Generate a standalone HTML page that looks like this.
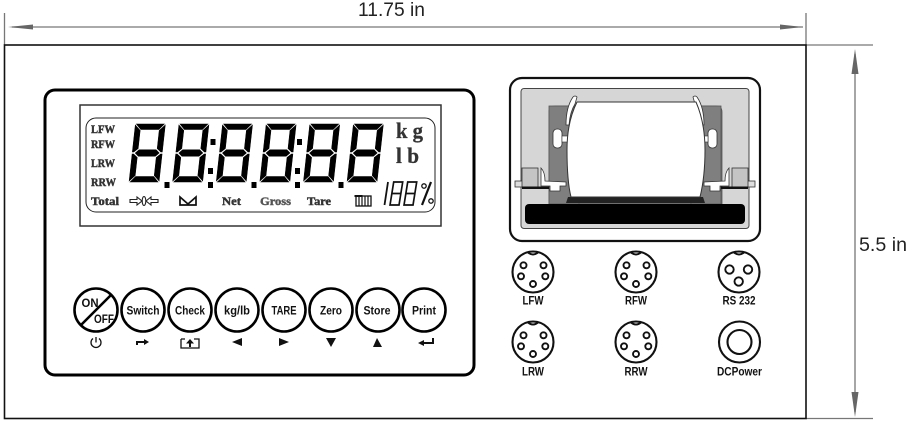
<!DOCTYPE html>
<html><head><meta charset="utf-8"><style>
html,body{margin:0;padding:0;background:#fff;width:910px;height:424px;overflow:hidden}
svg{display:block}
.d{font-family:"Liberation Sans",sans-serif;font-size:19.5px;fill:#222}
.b{font-family:"Liberation Sans",sans-serif;font-weight:bold;font-size:12px;fill:#111;text-anchor:middle}
.l{font-family:"Liberation Serif",serif;font-weight:bold;font-size:12px;fill:#333;stroke:#333;stroke-width:.45}
</style></head><body>
<svg width="910" height="424" viewBox="0 0 910 424" xmlns="http://www.w3.org/2000/svg">
<defs>
<g id="dg" transform="matrix(1 0 -0.11 1 6.4 0)" fill="#000" stroke="#000" stroke-width=".5">
<polygon points="1,0 29,0 24,5.5 6,5.5"/>
<polygon points="0,1 5.5,6.5 5.5,24.5 1.5,28 0,28"/>
<polygon points="30,1 30,28 28.5,28 24.5,24.5 24.5,6.500"/>
<polygon points="3,29 6.500,25.8 23.500,25.8 27,29 23.500,32.2 6.500,32.2"/>
<polygon points="0,30 1.5,30 5.5,33.500 5.500,51.500 0,57"/>
<polygon points="30,30 28.5,30 24.5,33.500 24.500,51.500 30,57"/>
<polygon points="1,58 6,52.500 24,52.500 29,58"/>
</g>
<g id="c5" fill="#fff" stroke="#111" stroke-width="1.9">
<circle r="20.5" stroke-width="2.1"/>
<path d="M-5.5-20Q0-15 5.5-20" fill="none"/>
<circle cx="-9.5" cy="-6.7" r="3"/><circle cx="10.5" cy="-6.7" r="3"/>
<circle cx="-12" cy="4.3" r="3"/><circle cx="12.3" cy="4.3" r="3"/>
<circle cx="0" cy="12" r="3"/>
</g>
<g id="s8" fill="none" stroke="#111" stroke-width="1.7" transform="matrix(1 0 -.16 1 3.7 0)">
<rect x="0" y="0" width="9" height="23"/><path d="M0 11.5H9"/>
</g>
<g id="cl">
<rect x="549" y="106" width="30" height="98" fill="#7f7f7f" stroke="#555" stroke-width=".8"/>
<rect x="553" y="129" width="9" height="19" rx="4" fill="#fff" stroke="#333" stroke-width=".8"/>
<rect x="562" y="136" width="6" height="6" fill="#fff" stroke="#333" stroke-width=".6"/>
<rect x="515" y="181" width="8" height="6" fill="#ddd" stroke="#333" stroke-width=".8"/>
<rect x="522" y="168" width="16" height="19" fill="#c4c4c4" stroke="#333" stroke-width=".8"/>
<rect x="522" y="186.5" width="27" height="2.5" fill="#111"/>
<path d="M541 168Q545 172 545 181L566 182V186H560V191H550V186H541Z" fill="#fff" stroke="#333" stroke-width=".8"/>
<path d="M573 97Q575 95 577 97L575 104Q570 112 569 125L566 125Q566 107 573 97Z" fill="#fff" stroke="#333" stroke-width=".8"/>
</g>
</defs>

<!-- dimensions -->
<g stroke="#777" stroke-width="1.3" fill="none">
<path d="M4.5 13V45M806 13V45M806 45H873M806 418.5H873"/>
<path d="M12 27H803M855 54V412"/>
</g>
<g fill="#666">
<polygon points="8,27 33,24.5 33,29.5"/><polygon points="803,27 780,24.5 780,29.5"/>
<polygon points="855,49 851.5,74 858.5,74"/><polygon points="855,417 851.5,392 858.5,392"/>
</g>
<text x="358" y="16" class="d" textLength="67" lengthAdjust="spacingAndGlyphs">11.75 in</text>
<text x="859" y="251" class="d" textLength="48" lengthAdjust="spacingAndGlyphs">5.5 in</text>

<rect x="4.5" y="45" width="801.5" height="373.5" fill="#fff" stroke="#111" stroke-width="1.6"/>
<rect x="45" y="90" width="429" height="285" rx="10" fill="#fff" stroke="#000" stroke-width="3"/>

<!-- LCD -->
<rect x="80" y="105" width="361" height="121" fill="#fff" stroke="#333" stroke-width="1.5"/>
<rect x="86" y="118" width="349" height="94" rx="10" fill="none" stroke="#222" stroke-width="1"/>
<use href="#dg" x="129" y="124"/><use href="#dg" x="172.6" y="124"/><use href="#dg" x="216.2" y="124"/>
<use href="#dg" x="259.8" y="124"/><use href="#dg" x="303.4" y="124"/><use href="#dg" x="347" y="124"/>
<g fill="#000">
<rect x="164.5" y="182" width="5" height="6"/><rect x="208" y="182" width="5" height="6"/>
<rect x="251.5" y="182" width="5" height="6"/><rect x="295" y="182" width="5" height="6"/>
<rect x="338.5" y="182" width="5" height="6"/>
<rect x="210.5" y="139" width="5" height="6"/><rect x="208" y="168" width="5" height="6"/>
<rect x="297" y="139" width="5" height="6"/><rect x="295" y="168" width="5" height="6"/>
</g>
<text x="91" y="133" class="l" textLength="24" lengthAdjust="spacingAndGlyphs">LFW</text>
<text x="91" y="148" class="l" textLength="24" lengthAdjust="spacingAndGlyphs">RFW</text>
<text x="91" y="167" class="l" textLength="24" lengthAdjust="spacingAndGlyphs">LRW</text>
<text x="91" y="186" class="l" textLength="25" lengthAdjust="spacingAndGlyphs">RRW</text>
<text x="91" y="205" class="l" textLength="28" lengthAdjust="spacingAndGlyphs">Total</text>
<text x="222" y="205" class="l" textLength="19" lengthAdjust="spacingAndGlyphs">Net</text>
<text x="260" y="205" class="l" textLength="31" lengthAdjust="spacingAndGlyphs" style="fill:#555;stroke:#555">Gross</text>
<text x="307" y="205" class="l" textLength="24" lengthAdjust="spacingAndGlyphs">Tare</text>
<g fill="none" stroke="#222" stroke-width="1.1">
<path d="M130 199.5H137V197L142 201L137 205V202.5H130Z"/>
<path d="M158 199.5H151V197L146 201L151 205V202.5H158Z"/>
<ellipse cx="144" cy="201" rx="1.8" ry="4.5"/>
</g>
<path d="M180 205V197L188 204L196 197V205H180Z" fill="none" stroke="#111" stroke-width="1.7"/>
<rect x="356" y="196" width="15" height="10" fill="#fff" stroke="#111" stroke-width="1.3"/>
<path d="M359 196V206M362 196V206M365 196V206M368 196V206" stroke="#111" stroke-width="1.2"/>
<rect x="354.5" y="195" width="8" height="2" fill="#111"/>
<text x="396" y="138" style="font-family:'Liberation Serif',serif;font-weight:bold;font-size:22px;fill:#333;stroke:#333;stroke-width:.3" textLength="27" lengthAdjust="spacingAndGlyphs">k g</text>
<text x="396" y="163" style="font-family:'Liberation Serif',serif;font-weight:bold;font-size:22px;fill:#333;stroke:#333;stroke-width:.3" textLength="23" lengthAdjust="spacingAndGlyphs">l b</text>
<path d="M388 182L384.5 205" stroke="#111" stroke-width="1.8"/>
<use href="#s8" x="390" y="182"/><use href="#s8" x="404" y="182"/>
<path d="M431 182L422 205" stroke="#111" stroke-width="2.2"/>
<circle cx="424" cy="186" r="2.2" fill="none" stroke="#111" stroke-width="1.3"/>
<circle cx="431" cy="201" r="2.2" fill="none" stroke="#111" stroke-width="1.3"/>

<!-- printer -->
<rect x="510" y="78" width="250" height="163" rx="12" fill="#fff" stroke="#111" stroke-width="2.2"/>
<rect x="521" y="88.5" width="228" height="140" rx="3" fill="#d6d6d6" stroke="#444" stroke-width="1"/>
<path d="M549 204V112Q549 106 555 106H716Q722 106 722 112V204Z" fill="#7f7f7f" stroke="#555" stroke-width=".8"/>
<use href="#cl"/><use href="#cl" transform="translate(1270 0) scale(-1 1)"/>
<path d="M568 197H703L705 203H566Z" fill="#222"/>
<path d="M577 102H696C703 118 705 135 705 150C705 170 703 185 700 197H571C568 185 567 170 567 150C567 135 569 118 577 102Z" fill="#fff" stroke="#333" stroke-width="1"/>
<rect x="525" y="204" width="220" height="20" rx="4" fill="#000"/>

<!-- buttons -->
<g fill="#fff" stroke="#000" stroke-width="2.6">
<circle cx="96" cy="310" r="21.5"/><circle cx="143" cy="310" r="21.5"/>
<circle cx="190" cy="310" r="21.5"/><circle cx="237" cy="310" r="21.5"/>
<circle cx="284" cy="310" r="21.5"/><circle cx="331" cy="310" r="21.5"/>
<circle cx="378" cy="310" r="21.5"/><circle cx="424" cy="310" r="21.5"/>
</g>
<path d="M81 325L111 295" stroke="#000" stroke-width="2.6"/>
<text x="90" y="307" class="b" textLength="17" lengthAdjust="spacingAndGlyphs">ON</text>
<text x="104" y="323" class="b" textLength="20" lengthAdjust="spacingAndGlyphs">OFF</text>
<text x="143" y="314.5" class="b" textLength="33" lengthAdjust="spacingAndGlyphs">Switch</text>
<text x="190" y="314.5" class="b" textLength="30" lengthAdjust="spacingAndGlyphs">Check</text>
<text x="237" y="314.5" class="b" textLength="26" lengthAdjust="spacingAndGlyphs">kg/lb</text>
<text x="284" y="314.5" class="b" textLength="25" lengthAdjust="spacingAndGlyphs">TARE</text>
<text x="331" y="314.5" class="b" textLength="22" lengthAdjust="spacingAndGlyphs">Zero</text>
<text x="377" y="314.5" class="b" textLength="27" lengthAdjust="spacingAndGlyphs">Store</text>
<text x="424" y="314.5" class="b" textLength="24" lengthAdjust="spacingAndGlyphs">Print</text>

<!-- key icons -->
<g fill="none" stroke="#111" stroke-width="1.3">
<path d="M93 338.5A5 5 0 1 0 99 338.5"/><path d="M96 337V342.5"/>
<path d="M181 339H185M194 339H199V348H181V339"/>
</g>
<g fill="#111">
<path d="M136 345V341H144V339L149 342L144 345V343H138V345Z"/>
<path d="M190 339L194 343.5H191V347H189V343.5H186Z"/>
<polygon points="232,342 242,338 242,346"/>
<polygon points="279,338 289,342 279,346"/>
<polygon points="326,338 336,338 331,347"/>
<polygon points="377,338 382,347 373,347"/>
<path d="M432 338H434V344H424V346L418 343L424 340V342H432Z"/>
</g>

<!-- connectors -->
<use href="#c5" x="533" y="272"/><use href="#c5" x="636" y="272"/>
<use href="#c5" x="533" y="342"/><use href="#c5" x="636" y="342"/>
<g fill="#fff" stroke="#111" stroke-width="1.9">
<circle cx="739" cy="272" r="20.5" stroke-width="2.1"/>
<path d="M733.5 252Q739 257 744.5 252" fill="none"/>
<circle cx="729.5" cy="269.5" r="4.2"/><circle cx="748" cy="269.5" r="4.2"/><circle cx="738.7" cy="281.5" r="4.2"/>
<circle cx="739.5" cy="342" r="20.5" stroke-width="2.1"/>
<circle cx="739.5" cy="342" r="12" stroke-width="2.1"/>
</g>
<text x="533" y="304.5" class="b" textLength="21" lengthAdjust="spacingAndGlyphs">LFW</text>
<text x="636" y="304.5" class="b" textLength="22" lengthAdjust="spacingAndGlyphs">RFW</text>
<text x="739" y="304.5" class="b" textLength="33" lengthAdjust="spacingAndGlyphs">RS 232</text>
<text x="533" y="375.5" class="b" textLength="22" lengthAdjust="spacingAndGlyphs">LRW</text>
<text x="636" y="375.5" class="b" textLength="23" lengthAdjust="spacingAndGlyphs">RRW</text>
<text x="739.5" y="375.5" class="b" textLength="45" lengthAdjust="spacingAndGlyphs">DCPower</text>
</svg>
</body></html>
